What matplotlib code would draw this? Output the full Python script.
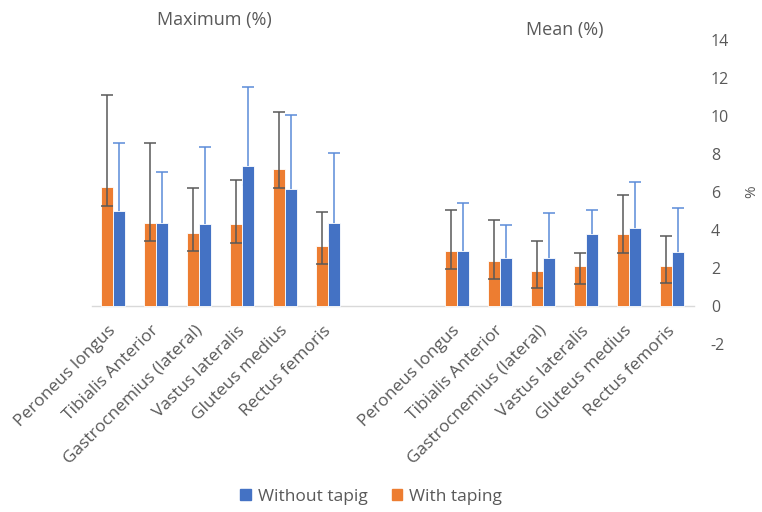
import numpy as np
import matplotlib
matplotlib.use('Agg')
from matplotlib import pyplot as plt
from matplotlib.patches import Patch
from matplotlib.transforms import ScaledTranslation

plt.rcParams['font.family'] = ['Open Sans', 'DejaVu Sans']
plt.rcParams['axes.unicode_minus'] = False

MUSCLES = ['Peroneus longus', 'Tibialis Anterior', 'Gastrocnemius (lateral)',
           'Vastus lateralis', 'Gluteus medius', 'Rectus femoris']

# Maximum (%)
max_with = [6.25, 4.38, 3.86, 4.30, 7.19, 3.18]
max_with_lo = [5.26, 3.40, 2.88, 3.32, 6.19, 2.19]
max_with_hi = [11.10, 8.56, 6.19, 6.65, 10.23, 4.96]
max_without = [5.02, 4.38, 4.30, 7.35, 6.14, 4.38]
max_without_lo = [4.05, 3.40, 3.30, 6.37, 5.18, 3.40]
max_without_hi = [8.60, 7.07, 8.39, 11.54, 10.07, 8.05]

# Mean (%)
mean_with = [2.91, 2.39, 1.86, 2.12, 3.79, 2.12]
mean_with_lo = [1.93, 1.40, 0.97, 1.14, 2.79, 1.23]
mean_with_hi = [5.05, 4.53, 3.40, 2.79, 5.86, 3.67]
mean_without = [2.91, 2.54, 2.54, 3.79, 4.12, 2.83]
mean_without_lo = [1.93, 1.67, 1.58, 2.79, 3.16, 1.84]
mean_without_hi = [5.42, 4.26, 4.89, 5.05, 6.54, 5.16]

ORANGE = '#ED7D31'
BLUE = '#4472C4'
GREY = '#595959'
BLUE_ERR = '#5B8BD8'
TXT = '#595959'

fig = plt.figure(figsize=(7.62, 5.12), dpi=100)
ax = fig.add_axes([91.5 / 762, (512 - 344) / 512, 602 / 762, 304 / 512])

pos = np.r_[np.arange(6), np.arange(8, 14)]
with_vals = np.array(max_with + mean_with)
with_lo = np.array(max_with_lo + mean_with_lo)
with_hi = np.array(max_with_hi + mean_with_hi)
without_vals = np.array(max_without + mean_without)
without_lo = np.array(max_without_lo + mean_without_lo)
without_hi = np.array(max_without_hi + mean_without_hi)

w = 0.265
off = 0.135
ax.bar(pos - off, with_vals, w, color=ORANGE, edgecolor='white', linewidth=0.6, zorder=2)
ax.bar(pos + off, without_vals, w, color=BLUE, edgecolor='white', linewidth=0.6, zorder=2)
ax.errorbar(pos - off, with_vals, yerr=[with_vals - with_lo, with_hi - with_vals],
            fmt='none', ecolor=GREY, elinewidth=1.1, capsize=4, capthick=1.1, zorder=3)
ax.errorbar(pos + off, without_vals, yerr=[without_vals - without_lo, without_hi - without_vals],
            fmt='none', ecolor=BLUE_ERR, elinewidth=1.1, capsize=4, capthick=1.1, zorder=1.5)

ax.set_xlim(-0.5, 13.5)
ax.set_ylim(-2, 14)
ax.set_yticks(range(-2, 15, 2))
ax.yaxis.tick_right()
ax.tick_params(axis='y', length=0, labelsize=11.5, labelcolor=TXT, pad=12.5)
for s in ['top', 'left', 'right']:
    ax.spines[s].set_visible(False)
# category axis crosses at 0
ax.spines['bottom'].set_position(('data', 0))
ax.spines['bottom'].set_color('#d9d9d9')
ax.spines['bottom'].set_linewidth(1)
ax.spines['bottom'].set_zorder(1)
fig.text(752 / 762, 1 - 192 / 512, '%', rotation=90, ha='center', va='center',
         fontsize=11, color=TXT)

ax.set_xticks(pos)
ax.set_xticklabels(MUSCLES + MUSCLES, rotation=45, ha='right', rotation_mode='anchor',
                   fontsize=12.5, color=TXT)
ax.tick_params(axis='x', length=0, pad=12)
shift = ScaledTranslation(-5 / 100, 0, fig.dpi_scale_trans)
for lbl in ax.get_xticklabels():
    lbl.set_transform(lbl.get_transform() + shift)

ax.text(2.35, 15.05, 'Maximum (%)', ha='center', va='center', fontsize=13, color=TXT, clip_on=False)
ax.text(10.5, 14.5, 'Mean (%)', ha='center', va='center', fontsize=13, color=TXT, clip_on=False)

handles = [Patch(color=BLUE, label='Without tapig'), Patch(color=ORANGE, label='With taping')]
fig.legend(handles=handles, loc='center', bbox_to_anchor=(371 / 762, 15 / 512), ncol=2,
           frameon=False, fontsize=12.5, labelcolor=TXT, handlelength=0.6, handleheight=0.6,
           handletextpad=0.4, columnspacing=1.4)

fig.savefig('out.png', dpi=100)
